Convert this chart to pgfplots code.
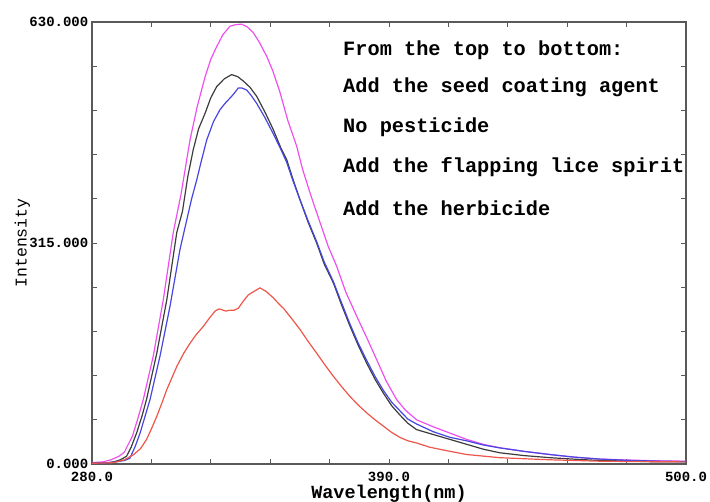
\documentclass[border=0pt]{standalone}
\usepackage{pgfplots}
\pgfplotsset{compat=1.18}
\usepackage{fontspec}
\setmainfont{Liberation Serif}
\newfontfamily\monofont{Liberation Mono}

\definecolor{cMag}{RGB}{238,80,238}
\definecolor{cBlk}{RGB}{60,60,60}
\definecolor{cBlu}{RGB}{70,70,225}
\definecolor{cRed}{RGB}{238,85,75}

\begin{document}
\begin{tikzpicture}
  \begin{axis}[
      scale only axis,
      width=594pt, height=442pt,
      xmin=280, xmax=500,
      ymin=0, ymax=630,
      axis line style={draw=black!65, line width=1.2pt},
      tick align=inside,
      major tick length=5pt,
      tick style={black!65, line width=0.8pt},
      xtick={280,302,...,500},
      xticklabels={280.0,,,,,390.0,,,,,500.0},
      ytick={0,63,...,630},
      yticklabels={0.000,,,,,315.000,,,,,630.000},
      /pgf/number format/assume math mode=true,
      ticklabel style={font=\monofont\bfseries\fontsize{14}{14}\selectfont, inner sep=1pt},
      yticklabel style={xshift=-2.5pt},
      xticklabel style={yshift=-6.5pt},
      xlabel={Wavelength(nm)},
      xlabel style={font=\monofont\bfseries\fontsize{18.5}{18.5}\selectfont,
        inner sep=0pt, yshift=-3pt},
      ylabel={Intensity},
      ylabel style={font=\monofont\fontsize{16.5}{16.5}\selectfont, yshift=-5pt},
      clip=true,
      every axis plot/.append style={line width=1.2pt},
    ]
    % magenta: seed coating agent
    \addplot[cMag] coordinates {
      (280,2)(284,3)(287,6)(290,11)(292,17)(295,40)(297,65)(299,92)(302.7,154)
      (306.4,234)(310.1,330)(313,385)(316.3,462)(319,510)(321.9,552)(324,577)
      (326.2,595)(328.5,612)(331.1,624)(333,626)(335.4,627)(337.5,623)(339.7,615)
      (342,601)(344.7,581)(347,560)(349.6,530)(352.5,490)(355.8,453)(358,420)
      (360.7,387)(363.5,355)(367.5,310)(370.6,282)(374,245)(378,211)(382,178)
      (385.4,149)(389,118)(392.8,92)(396,77)(400.2,63)(406.4,53)(412.6,44)
      (418.8,35)(425,28)(431.1,23)(440,18)(449.6,13.5)(458,10)(468,7)(480,5.5)
      (490,4.5)(500,4)
    };
    % black: no pesticide
    \addplot[cBlk] coordinates {
      (280,1)(285,1.5)(288,3)(290.5,6)(292.8,11)(294.5,24)(296.5,44)(298.5,68)
      (300.2,92)(304,158)(307.7,234)(311.4,330)(313.5,360)(315.5,410)(317.5,448)
      (319.5,478)(321.9,500)(324,522)(326.2,538)(329,549)(331.7,555)(334,552)
      (336,546)(338.5,537)(341,524)(344,502)(347.1,477)(350,450)(352.1,434)
      (354.5,405)(357,377)(360,345)(363.2,315)(366,285)(369.4,258)(372.5,226)
      (375.6,196)(378.5,170)(381.7,144)(384.8,121)(387.9,101)(391,83)(394,70)
      (397,58)(400.2,49)(406.4,42)(412.6,35)(418.8,28)(425,21)(431,16)(440,12)
      (449.6,9)(458,7)(468,5)(480,4)(490,3)(500,3)
    };
    % blue: flapping lice spirit
    \addplot[cBlu] coordinates {
      (280,1)(285,1.5)(289,3)(292,5)(294,8)(296,25)(297.8,44)(299.5,66)(301.5,92)
      (305.2,154)(308.9,225)(312.6,306)(315.1,348)(316.9,378)(318.8,405)
      (320.5,432)(322.5,462)(325,488)(327.4,505)(329.5,515)(331.7,524)(333,530)
      (334.2,536)(335.5,536)(337.3,533)(339,525)(341,514)(344,494)(347.1,471)
      (350,448)(352.1,430)(354.5,403)(357,377)(360,347)(363.2,317)(366,288)
      (369.4,260)(372.5,229)(375.6,199)(378.5,173)(381.7,148)(384.8,125)
      (387.9,105)(391,88)(394,76)(397,64)(400.2,57)(406.4,46)(412.6,38)
      (418.8,33)(425,27)(431,23)(440,18)(449.6,13.5)(458,10)(468,7)(480,5)
      (490,4)(500,3.5)
    };
    % red: herbicide
    \addplot[cRed] coordinates {
      (280,1)(285,1.5)(288,2)(292,6)(295.3,13)(298,22)(300.2,35)(302,50)(304,68)
      (306,88)(307.7,106)(309.5,122)(311.4,139)(314,158)(316.3,172)(318.5,184)
      (321.2,196)(323.5,208)(325.6,218)(327,221)(328,220)(329.5,218)(331,219)
      (332.5,219)(334.2,222)(336,232)(337.9,241)(340,246)(342.2,251)(344.5,246)
      (347.1,237)(349.5,227)(350.9,222)(354,207)(357,192)(360,175)(363.2,158)
      (366.3,141)(369.4,125)(372.5,110)(375.6,96)(378.6,84)(381.7,73)(384.8,63)
      (387.9,54)(391,45)(394,38)(397,33)(400.2,30)(405,24)(410,20)(418.8,13.5)
      (431,9)(440,7.5)(449.6,6)(468,4)(480,3.5)(500,3)
    };
    \begin{scope}[every node/.style={anchor=base west, inner sep=0pt,
        font=\monofont\bfseries\fontsize{20.3}{20.3}\selectfont}]
      \node at (rel axis cs:0.4226,0.9253) {From the top to bottom:};
      \node at (rel axis cs:0.4226,0.8394) {Add the seed coating agent};
      \node at (rel axis cs:0.4226,0.7511) {No pesticide};
      \node at (rel axis cs:0.4226,0.6584) {Add the flapping lice spirit};
      \node at (rel axis cs:0.4226,0.5611) {Add the herbicide};
    \end{scope}
  \end{axis}
  \pgfresetboundingbox
  \path (current axis.south west) ++(-92pt,-38pt) rectangle ++(710pt,502pt);
\end{tikzpicture}
\end{document}
